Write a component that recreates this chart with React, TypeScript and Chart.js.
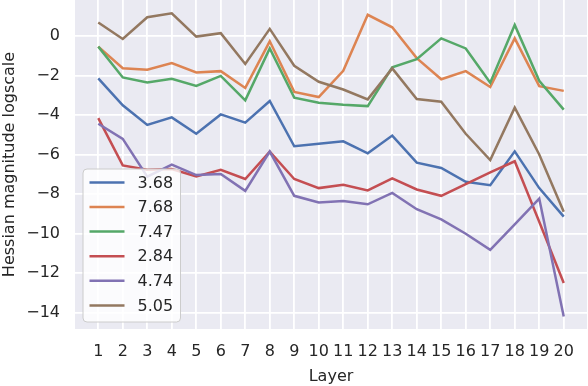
import React, { useEffect, useRef } from "react";
import { Chart, registerables } from "chart.js";

Chart.register(...registerables);

const layers = [1, 2, 3, 4, 5, 6, 7, 8, 9, 10, 11, 12, 13, 14, 15, 16, 17, 18, 19, 20];
const seriesLabels = ["3.68", "7.68", "7.47", "2.84", "4.74", "5.05"];
const seriesColors = ["#4C72B0", "#DD8452", "#55A868", "#C44E52", "#8172B3", "#937860"];

const s368 = [-2.15, -3.51, -4.5, -4.12, -4.95, -3.97, -4.39, -3.29, -5.58, -5.45, -5.33, -5.94, -5.04, -6.41, -6.68, -7.38, -7.55, -5.84, -7.7, -9.14];
const s768 = [-0.54, -1.63, -1.71, -1.37, -1.85, -1.78, -2.63, -0.27, -2.83, -3.09, -1.76, 1.07, 0.44, -1.12, -2.19, -1.78, -2.58, -0.12, -2.54, -2.78];
const s747 = [-0.54, -2.1, -2.36, -2.17, -2.53, -2.02, -3.26, -0.63, -3.12, -3.38, -3.48, -3.55, -1.59, -1.17, -0.12, -0.63, -2.37, 0.56, -2.27, -3.73];
const s284 = [-4.16, -6.55, -6.77, -6.73, -7.11, -6.77, -7.24, -5.85, -7.24, -7.7, -7.53, -7.82, -7.21, -7.77, -8.09, -7.5, -6.9, -6.34, -9.4, -12.5];
const s474 = [-4.44, -5.21, -7.12, -6.51, -7.04, -6.99, -7.84, -5.85, -8.09, -8.43, -8.35, -8.52, -7.94, -8.77, -9.28, -10.01, -10.82, -9.53, -8.23, -14.2];
const s505 = [0.68, -0.15, 0.95, 1.15, -0.03, 0.14, -1.42, 0.36, -1.51, -2.32, -2.71, -3.21, -1.64, -3.19, -3.33, -4.95, -6.28, -3.63, -6.0, -8.9];

const seriesValues = [s368, s768, s747, s284, s474, s505];
const yTicks = [-14, -12, -10, -8, -6, -4, -2, 0];

const FONT = "'DejaVu Sans', sans-serif";
const TEXT = "#262626";

const insideLegend = {
  id: "insideLegend",
  afterDatasetsDraw(chart: any) {
    const { ctx, chartArea } = chart;
    const ds = chart.data.datasets;
    const x0 = chartArea.left + 8;
    const boxW = 97.5;
    const boxH = 153;
    const y0 = chartArea.bottom - 7 - boxH;
    const rowH = 24.6;
    const r = 4;
    ctx.save();
    ctx.beginPath();
    ctx.moveTo(x0 + r, y0);
    ctx.lineTo(x0 + boxW - r, y0);
    ctx.arcTo(x0 + boxW, y0, x0 + boxW, y0 + r, r);
    ctx.lineTo(x0 + boxW, y0 + boxH - r);
    ctx.arcTo(x0 + boxW, y0 + boxH, x0 + boxW - r, y0 + boxH, r);
    ctx.lineTo(x0 + r, y0 + boxH);
    ctx.arcTo(x0, y0 + boxH, x0, y0 + boxH - r, r);
    ctx.lineTo(x0, y0 + r);
    ctx.arcTo(x0, y0, x0 + r, y0, r);
    ctx.closePath();
    ctx.fillStyle = "rgba(255,255,255,0.8)";
    ctx.fill();
    ctx.strokeStyle = "#CCCCCC";
    ctx.lineWidth = 1;
    ctx.stroke();
    ctx.font = `16px ${FONT}`;
    ctx.textBaseline = "middle";
    ctx.textAlign = "left";
    ds.forEach((d: any, i: number) => {
      const y = y0 + 13.4 + rowH * i;
      ctx.beginPath();
      ctx.moveTo(x0 + 6.5, y);
      ctx.lineTo(x0 + 41.5, y);
      ctx.strokeStyle = d.borderColor;
      ctx.lineWidth = 2.5;
      ctx.stroke();
      ctx.fillStyle = TEXT;
      ctx.fillText(d.label, x0 + 54.6, y + 1);
    });
    ctx.restore();
  },
};

const bgPlugin = {
  id: "plotBg",
  beforeDraw(chart: any) {
    const { ctx, chartArea } = chart;
    ctx.save();
    ctx.fillStyle = "#FFFFFF";
    ctx.fillRect(0, 0, chart.width, chart.height);
    ctx.fillStyle = "#EAEAF2";
    ctx.fillRect(chartArea.left, chartArea.top, chartArea.right - chartArea.left, chartArea.bottom - chartArea.top);
    ctx.restore();
  },
};

export default function App() {
  const ref = useRef<HTMLCanvasElement | null>(null);

  useEffect(() => {
    if (!ref.current) return;
    const chart = new Chart(ref.current, {
      type: "line",
      data: {
        datasets: seriesValues.map((vals, i) => ({
          label: seriesLabels[i],
          data: layers.map((x, j) => ({ x, y: vals[j] })),
          borderColor: seriesColors[i],
          backgroundColor: seriesColors[i],
          borderWidth: 2.5,
          pointRadius: 0,
          tension: 0,
          fill: false,
          order: seriesValues.length - i,
        })),
      },
      options: {
        animation: false,
        responsive: false,
        maintainAspectRatio: false,
        layout: { padding: { left: 0, top: 0, right: 1, bottom: 0 } },
        plugins: {
          legend: { display: false },
          tooltip: { enabled: false },
          title: { display: false },
        },
        scales: {
          x: {
            type: "linear",
            min: 0.05,
            max: 20.95,
            afterBuildTicks: (scale: any) => {
              scale.ticks = layers.map((v) => ({ value: v }));
            },
            afterFit: (scale: any) => {
              scale.height = 57;
              scale.paddingLeft = 0;
              scale.paddingRight = 0;
              scale.paddingTop = 0;
              scale.paddingBottom = 0;
            },
            border: { display: false },
            grid: { color: "#FFFFFF", lineWidth: 1.8, drawTicks: false },
            ticks: {
              autoSkip: false,
              maxRotation: 0,
              minRotation: 0,
              padding: 13,
              color: TEXT,
              font: { family: FONT, size: 16 },
              callback: (v: any) => String(v),
            },
            title: {
              display: true,
              text: "Layer",
              color: TEXT,
              font: { family: FONT, size: 16 },
              padding: { top: 0, bottom: 0 },
            },
          },
          y: {
            type: "linear",
            min: -14.83,
            max: 1.82,
            afterBuildTicks: (scale: any) => {
              scale.ticks = yTicks.map((v) => ({ value: v }));
            },
            afterFit: (scale: any) => {
              scale.width = 75;
              scale.paddingLeft = 0;
              scale.paddingRight = 0;
              scale.paddingTop = 0;
              scale.paddingBottom = 0;
            },
            border: { display: false },
            grid: { color: "#FFFFFF", lineWidth: 1.8, drawTicks: false },
            ticks: {
              padding: 15,
              color: TEXT,
              font: { family: FONT, size: 16 },
              callback: (v: any) => (v < 0 ? "\u2212" + Math.abs(v) : String(v)),
            },
            title: {
              display: true,
              text: "Hessian magnitude logscale",
              color: TEXT,
              font: { family: FONT, size: 16 },
              padding: { top: 0, bottom: 0 },
            },
          },
        },
      },
      plugins: [bgPlugin, insideLegend],
    });
    return () => chart.destroy();
  }, []);

  return (
    <div style={{ position: "fixed", left: 0, top: 0, width: 588, height: 386, background: "#fff" }}>
      <canvas ref={ref} width={588} height={386} style={{ display: "block" }} />
    </div>
  );
}
